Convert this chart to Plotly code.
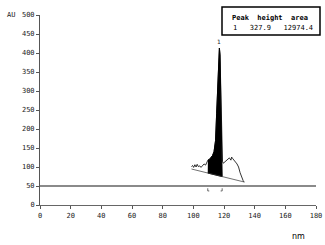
import plotly.graph_objects as go

# ---- data ----
x_ticks = [0, 20, 40, 60, 80, 100, 120, 140, 160, 180]
y_ticks = [0, 50, 100, 150, 200, 250, 300, 350, 400, 450, 500]

signal_x = [98.8, 99.5, 100.2, 101.0, 101.8, 102.5, 103.3, 104.2, 105.0, 106.0,
            107.0, 108.0, 109.0, 109.5, 110.5, 111.5, 112.5, 113.5, 114.5, 115.2,
            116.0, 116.6, 117.0, 117.4, 117.9, 118.3, 118.6, 119.0, 119.6, 120.5,
            121.5, 122.5, 123.5, 124.5, 125.0, 125.7, 126.5, 127.5, 128.5, 129.5,
            130.5, 131.5, 132.5, 133.2]
signal_y = [101, 104, 99, 106, 100, 107, 101, 103, 99, 104,
            108, 105, 112, 118, 120, 125, 130, 140, 170, 240,
            330, 400, 413, 395, 300, 200, 140, 115, 110, 113,
            118, 121, 124, 118, 126, 122, 119, 113, 108, 100,
            85, 72, 64, 60]

baseline_x = [98.8, 133.2]
baseline_y = [94.7, 60.5]

peak_start = 109.4
peak_end = 118.8
threshold = 50

table_header = "Peak  height  area"
table_row = "1   327.9   12974.4"

# ---- figure ----
def base_at(x):
    return baseline_y[0] + (x - baseline_x[0]) * (baseline_y[1] - baseline_y[0]) / (baseline_x[1] - baseline_x[0])

px = [x for x in signal_x if peak_start <= x <= peak_end]
py = [y for x, y in zip(signal_x, signal_y) if peak_start <= x <= peak_end]
fill_x = px + [peak_end, peak_start]
fill_y = py + [base_at(peak_end), base_at(peak_start)]

fig = go.Figure()
fig.add_trace(go.Scatter(x=[0, 180], y=[threshold, threshold], mode="lines",
                         line=dict(color="#8a8a8a", width=2), hoverinfo="skip"))
fig.add_trace(go.Scatter(x=fill_x, y=fill_y, fill="toself", fillcolor="black",
                         mode="lines", line=dict(color="black", width=1), hoverinfo="skip"))
fig.add_trace(go.Scatter(x=signal_x, y=signal_y, mode="lines",
                         line=dict(color="black", width=0.8)))
fig.add_trace(go.Scatter(x=baseline_x, y=baseline_y, mode="lines",
                         line=dict(color="#333333", width=0.7)))
# integration marks
fig.add_trace(go.Scatter(x=[peak_start, peak_start, peak_start + 1.0], y=[44, 37, 37],
                         mode="lines", line=dict(color="#444444", width=0.8)))
fig.add_trace(go.Scatter(x=[peak_end - 1.0, peak_end, peak_end], y=[37, 37, 44],
                         mode="lines", line=dict(color="#444444", width=0.8)))

mono = "DejaVu Sans Mono"
W0, W = 40, 276    # plot-area left pixel and width
T0, H = 15, 190    # plot-area top pixel and height


def pxx(p):
    return (p - W0) / W


def pxy(p):
    return (T0 + H - p) / H


tickfont = dict(family=mono, size=7, color="#222222")
fig.update_layout(
    width=325, height=245,
    margin=dict(l=W0, r=325 - W0 - W, t=T0, b=245 - T0 - H, autoexpand=False),
    paper_bgcolor="white", plot_bgcolor="white",
    showlegend=False,
    font=dict(family=mono, size=7, color="#222222"),
    xaxis=dict(range=[0, 180], tickvals=x_ticks, showgrid=False, zeroline=False,
               showline=True, linecolor="#666666", linewidth=1.3, automargin=False,
               ticks="outside", ticklen=3, tickcolor="#555555", tickfont=tickfont),
    yaxis=dict(range=[0, 500], tickvals=y_ticks, showgrid=False, zeroline=False,
               showline=True, linecolor="#555555", linewidth=1, automargin=False,
               ticks="outside", ticklen=3, tickcolor="#555555", tickfont=tickfont),
    shapes=[dict(type="rect", xref="paper", yref="paper",
                 x0=pxx(222), x1=pxx(320), y0=pxy(35), y1=pxy(7),
                 line=dict(color="black", width=1.5), fillcolor="white", layer="below")],
    annotations=[
        dict(x=pxx(270), y=pxy(18), xref="paper", yref="paper", xanchor="center", yanchor="middle",
             text="<b>" + table_header.replace(" ", "&nbsp;") + "</b>",
             showarrow=False, font=dict(family=mono, size=7, color="black")),
        dict(x=pxx(273), y=pxy(28), xref="paper", yref="paper", xanchor="center", yanchor="middle",
             text=table_row.replace(" ", "&nbsp;"),
             showarrow=False, font=dict(family=mono, size=7, color="black")),
        dict(x=117.0, y=413, xref="x", yref="y", text="1", showarrow=False, yshift=7,
             xanchor="center", yanchor="middle",
             font=dict(family=mono, size=6, color="#222222")),
        dict(x=pxx(5), y=pxy(15), xref="paper", yref="paper", xanchor="left", yanchor="middle",
             text="AU", showarrow=False, font=dict(family=mono, size=7, color="#222222")),
        dict(x=pxx(298), y=pxy(236), xref="paper", yref="paper", xanchor="center", yanchor="middle",
             text="nm", showarrow=False, font=dict(family="DejaVu Sans", size=8, color="black")),
    ],
)
fig.write_html("out.html", config={"displayModeBar": False},
               post_script="document.body.style.margin='0';document.body.style.overflow='hidden';")
